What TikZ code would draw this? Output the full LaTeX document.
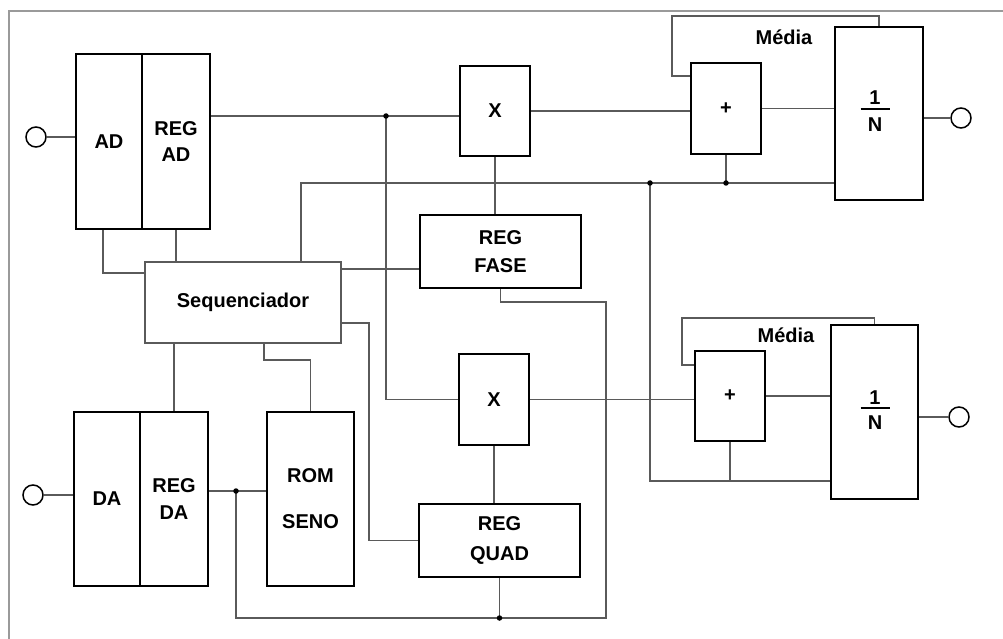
\documentclass[tikz,border=0pt]{standalone}
\usepackage{fontspec}
\setmainfont{Liberation Sans}
\definecolor{wirecol}{HTML}{5A5A5A}
\definecolor{framecol}{HTML}{9A9A9A}
\begin{document}
\begin{tikzpicture}[x=1pt,y=-1pt,
  lbl/.style={font=\bfseries\fontsize{20}{24}\selectfont, align=center},
  blk/.style={draw=black, line width=2.6pt, inner sep=0pt, lbl},
  wire/.style={draw=wirecol, line width=1.3pt},
  jdot/.style={circle, fill=black, inner sep=0pt, minimum size=5.5pt},
  port/.style={circle, draw=black, line width=1.5pt, minimum size=20pt, inner sep=0pt}]
\useasboundingbox (0,0) rectangle (1003,639);
\fill[white] (0,0) rectangle (1003,639);
\draw[framecol, line width=1.6pt] (9,639) -- (9,11) -- (1003,11);

% blocks
\node[blk, minimum width=66pt, minimum height=175pt] (ad) at (109,141.5) {AD};
\node[blk, minimum width=68pt, minimum height=175pt] (regad) at (176,141.5) {REG\\[2pt]AD};
\node[blk, minimum width=66pt, minimum height=174pt] (da) at (107,499) {DA};
\node[blk, minimum width=68pt, minimum height=174pt] (regda) at (174,499) {REG\\[3pt]DA};
\node[blk, minimum width=87pt, minimum height=174pt] (rom) at (310.5,499) {ROM\\[22pt]SENO};
\node[draw=wirecol, line width=1.3pt, minimum width=196pt, minimum height=81pt, lbl] (seq) at (243,302.5) {Sequenciador};
\node[blk, minimum width=70pt, minimum height=90pt] (xa) at (495,111) {X};
\node[blk, minimum width=70pt, minimum height=91pt] (xb) at (494,399.5) {X};
\node[blk, minimum width=161pt, minimum height=73pt] (fase) at (500.5,251.5) {REG\\[4pt]FASE};
\node[blk, minimum width=161pt, minimum height=73pt] (quad) at (499.5,540.5) {REG\\[6pt]QUAD};
\node[blk, minimum width=70pt, minimum height=91pt] (suma) at (726,108.5) {+};
\node[blk, minimum width=70pt, minimum height=90pt] (sumb) at (730,396) {+};
\node[blk, minimum width=88pt, minimum height=173pt] (na) at (879,113.5) {};
\node[blk, minimum width=87pt, minimum height=174pt] (nb) at (874.5,412) {};
\node[lbl] (na1) at (875,98) {1};
\node[lbl] (naN) at (875,125) {N};
\draw[black, line width=1.2pt] ([xshift=-14.5pt,yshift=-11pt]na1.center) -- ([xshift=14.5pt,yshift=-11pt]na1.center);
\node[lbl] (nb1) at (875,398) {1};
\node[lbl] (nbN) at (875,423) {N};
\draw[black, line width=1.2pt] ([xshift=-14.5pt,yshift=-10pt]nb1.center) -- ([xshift=14.5pt,yshift=-10pt]nb1.center);
\node[lbl] (meda) at (784,37) {Média};
\node[lbl] (medb) at (786,335) {Média};

% ports
\node[port] (ina) at (36,137) {};
\node[port] (inb) at (33,495) {};
\node[port] (outa) at (961,118) {};
\node[port] (outb) at (959,417) {};

% junctions and bends
\coordinate (j1) at (386,116);
\coordinate (b0) at (301,183);
\coordinate (j2) at (650,183);
\coordinate (j3) at (suma.south |- b0);
\coordinate (c1) at (650,481);
\coordinate (e1) at (103,273);
\coordinate (k1) at (341,269);
\coordinate (m2) at (606,302);
\coordinate (m3) at (606,618);
\coordinate (j4) at (236,491);
\coordinate (j5) at (quad.south |- m3);
\coordinate (n1) at (369,323);
\coordinate (p1) at (264,360);
\coordinate (fa1) at (672,76);
\coordinate (fa2) at (879,16);
\coordinate (fb1) at (682,365);
\coordinate (fb2) at (874.5,318);

% wires
\draw[wire] (ina) -- (ad.west |- ina);
\draw[wire] (regad.east |- j1) -- (j1) -- (xa.west |- j1);
\draw[wire] (j1) |- (xb.west);
\draw[wire] (xa.south) -- (xa.south |- fase.north);
\draw[wire] (seq.north -| b0) -- (b0) -- (na.west |- b0);
\draw[wire] (suma.south) -- (j3);
\draw[wire] (j2) -- (c1) -- (nb.west |- c1);
\draw[wire] (sumb.south) -- (sumb.south |- c1);
\draw[wire] (ad.south -| e1) -- (e1) -- (seq.west |- e1);
\draw[wire] (regad.south) -- (regad.south |- seq.north);
\draw[wire] (seq.east |- k1) -- (fase.west |- k1);
\draw[wire] (fase.south) |- (m2) -- (m3) -| (j4);
\draw[wire] (quad.south) -- (j5);
\draw[wire] (seq.east |- n1) -- (n1) |- (quad.west);
\draw[wire] (seq.south -| regda.north) -- (regda.north);
\draw[wire] (seq.south -| p1) -- (p1) -| (rom.north);
\draw[wire] (inb) -- (da.west |- inb);
\draw[wire] (regda.east |- j4) -- (rom.west |- j4);
\draw[wire] (xb.south) -- (xb.south |- quad.north);
\draw[wire] (xa.east) -- (suma.west |- xa.east);
\draw[wire] (suma.east) -- (na.west |- suma.east);
\draw[wire] (na.east |- outa) -- (outa);
\draw[wire] (xb.east) -- (sumb.west |- xb.east);
\draw[wire] (sumb.east) -- (nb.west |- sumb.east);
\draw[wire] (nb.east |- outb) -- (outb);
\draw[wire] (suma.west |- fa1) -- (fa1) |- (fa2) -- (na.north);
\draw[wire] (sumb.west |- fb1) -- (fb1) |- (fb2) -- (nb.north);

% dots
\node[jdot] (d1) at (j1) {};
\node[jdot] (d2) at (j2) {};
\node[jdot] (d3) at (j3) {};
\node[jdot] (d4) at (j4) {};
\node[jdot] (d5) at (j5) {};
\end{tikzpicture}
\end{document}
